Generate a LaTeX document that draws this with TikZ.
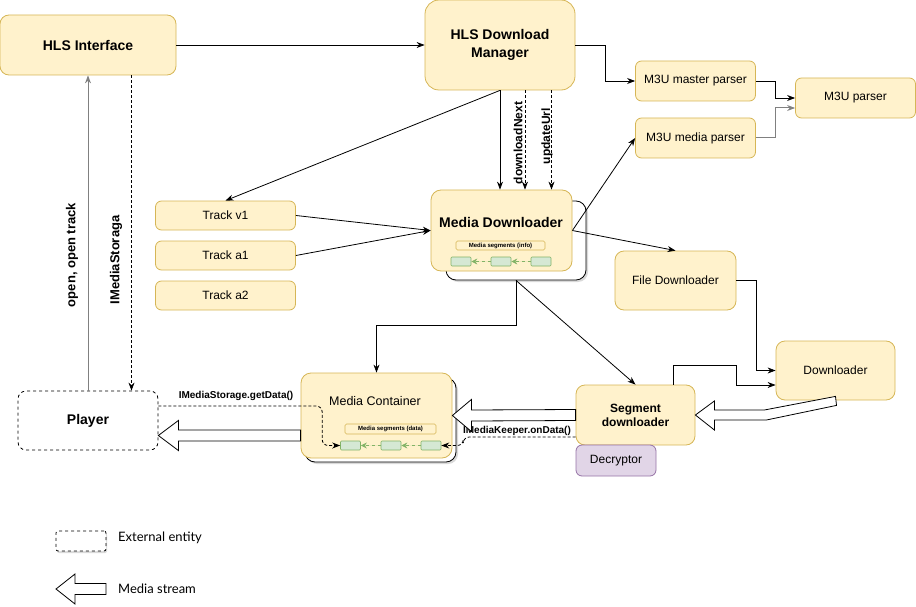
\documentclass[tikz,border=0pt]{standalone}
\usepackage{fontspec}
\setmainfont{Liberation Sans}
\newfontfamily\legendfont{Lato}
\usetikzlibrary{arrows.meta,calc,shadows}
\definecolor{boxfill}{HTML}{FFF2CC}
\definecolor{boxline}{HTML}{D6B656}
\definecolor{segfill}{HTML}{D5E8D4}
\definecolor{segline}{HTML}{82B366}
\definecolor{decfill}{HTML}{E1D5E7}
\definecolor{decline}{HTML}{9673A6}
\tikzset{
    box/.style={draw=boxline, fill=boxfill, line width=0.8pt, rounded corners=6pt, align=center, inner sep=0pt, font=\fontsize{12}{14}\selectfont},
    bigbox/.style={box, rounded corners=9pt, font=\fontsize{14}{18}\selectfont\bfseries},
    backbox/.style={draw, fill=white, line width=0.8pt, rounded corners=10pt, inner sep=0pt, drop shadow={opacity=0.3, shadow xshift=2pt, shadow yshift=-2pt}},
    extbox/.style={draw, dashed, fill=white, line width=0.8pt, inner sep=0pt},
    infobox/.style={draw=boxline, fill=boxfill, line width=0.6pt, rounded corners=1.5pt, inner sep=0pt, font=\fontsize{6}{7}\selectfont\bfseries},
    segbox/.style={draw=segline, fill=segfill, line width=0.6pt, rounded corners=1pt, minimum width=20pt, minimum height=9pt, inner sep=0pt},
    arr/.style={-{Stealth[length=8pt,width=6pt]}, line width=0.8pt},
    garr/.style={arr, draw=black!50, line width=1pt},
    darr/.style={arr, dash pattern=on 3pt off 2pt},
    segarr/.style={-{Stealth[length=6pt,width=6pt]}, draw=segline, fill=segline, line width=0.8pt, dash pattern=on 3pt off 3pt},
    stream/.style={draw, fill=white, line width=0.8pt},
    vlabel/.style={font=\fontsize{13}{15}\selectfont\bfseries, inner sep=0pt, rotate=90},
    slabel/.style={font=\fontsize{10}{12}\selectfont\bfseries, inner sep=0pt},
    legtext/.style={font=\legendfont\fontsize{13}{15}\selectfont, inner sep=0pt}
}
% left pointing media stream: tip, tail, head length, head half width
\newcommand{\mediastream}[4]{\draw[stream] (#1) -- ++(#3,-#4) -- ++(0,#4-5.5) -- ($(#2)+(0,-5.5)$) -- ($(#2)+(0,5.5)$) -- ($(#1)+(#3,5.5)$) -- ++(0,#4-5.5) -- cycle;}
\begin{document}
\begin{tikzpicture}[x=1pt, y=-1pt]
    \useasboundingbox (0,0) rectangle (916,607);
    % top row
    \node[bigbox, minimum width=176pt, minimum height=60pt] (iface) at (88,45) {HLS Interface};
    \node[bigbox, rounded corners=14pt, minimum width=150pt, minimum height=90pt] (dm) at (500,45) {HLS Download\\Manager};
    \node[box, minimum width=120pt, minimum height=40pt] (master) at (695.5,81) {M3U master parser};
    \node[box, minimum width=120pt, minimum height=40pt] (media) at (695.5,138) {M3U media parser};
    \node[box, minimum width=120pt, minimum height=40pt] (parser) at (855.5,98) {M3U parser};
    % tracks
    \foreach \n/\y in {v1/215.5,a1/255.5,a2/295.5}
    {
        \node[box, minimum width=140pt, minimum height=29pt] (t\n) at (225.5,\y) {Track \n};
    }
    % media downloader
    \node[backbox, minimum width=140pt, minimum height=79pt] (mdback) at (516,240.5) {};
    \node[box, rounded corners=10pt, minimum width=141pt, minimum height=81pt] (md) at (501.5,230.5) {};
    \node[font=\fontsize{14}{17}\selectfont\bfseries, inner sep=0pt] (mdtitle) at (501,222) {Media Downloader};
    \node[infobox, minimum width=89pt, minimum height=9pt] (mdinfo) at (500.5,245.5) {Media segments (info)};
    \foreach \i/\x in {1/461,2/501,3/541}
    {
        \node[segbox] (mdseg\i) at (\x,261.5) {};
    }
    \draw[segarr] (mdseg3) -- (mdseg2);
    \draw[segarr] (mdseg2) -- (mdseg1);
    % downloaders
    \node[box, rounded corners=9pt, minimum width=121pt, minimum height=59pt] (fdl) at (675.5,280.5) {File Downloader};
    \node[box, rounded corners=9pt, minimum width=119pt, minimum height=59pt] (dl) at (835.5,370.5) {Downloader};
    \node[box, rounded corners=9pt, minimum width=119pt, minimum height=60pt, font=\fontsize{12}{14}\selectfont\bfseries] (seg) at (635.5,415) {Segment\\downloader};
    \node[box, draw=decline, fill=decfill, minimum width=80pt, minimum height=31pt] (dec) at (616,460.5) {Decryptor};
    % media container
    \node[backbox, minimum width=151pt, minimum height=84pt] (mcback) at (380.5,420) {};
    \node[box, rounded corners=10pt, minimum width=151pt, minimum height=85pt] (mc) at (376.5,415.5) {};
    \node[font=\fontsize{12.5}{15}\selectfont, inner sep=0pt] (mctitle) at (375,401) {Media Container};
    \node[infobox, minimum width=91pt, minimum height=10pt] (mcinfo) at (390.5,429) {Media segments (data)};
    \foreach \i/\x in {1/350.5,2/391,3/431}
    {
        \node[segbox] (mcseg\i) at (\x,445.5) {};
    }
    \draw[segarr] (mcseg3) -- (mcseg2);
    \draw[segarr] (mcseg2) -- (mcseg1);
    % player
    \node[extbox, rounded corners=8pt, minimum width=140pt, minimum height=59pt, font=\fontsize{14}{17}\selectfont\bfseries] (player) at (88,420.5) {Player};
    % connectors
    \draw[arr] (iface) -- (dm);
    \draw[arr] (dm.east) -- ++(30,0) |- (master.west);
    \draw[arr] (master.east) -- ++(19.5,0) |- (parser.west);
    \draw[garr] (media.east) -- ++(19.5,0) |- ($(parser.west)+(0,10)$);
    \draw[arr] (dm.south) -- (dm.south |- md.north);
    \draw[darr] ($(dm.south)+(25,0)$) -- ($(dm.south |- md.north)+(25,0)$);
    \node[vlabel, font=\fontsize{12}{14}\selectfont\bfseries] (lblnext) at (518,143) {downloadNext};
    \draw[darr] ($(dm.south)+(51.5,0)$) -- ($(dm.south |- md.north)+(51.5,0)$);
    \node[vlabel, font=\fontsize{12}{14}\selectfont\bfseries] (lblurl) at (547,136) {updateUrl};
    \draw[arr] (dm.south) -- (tv1.north);
    \draw[arr] (tv1.east) -- (md.west);
    \draw[arr] (ta1.east) -- (md.west);
    \draw[arr] (md.east) -- (media.west);
    \draw[arr] (md.east) -- (fdl.north);
    \draw[arr] (mdback.south) -- ++(0,45) -| (mc.north);
    \draw[arr] (mdback.south) -- (seg.north);
    \draw[arr] (fdl.east) -- ++(19.5,0) |- (dl.west);
    \draw[arr] ($(seg.north)+(37.5,0)$) -- ++(0,-19) -- ++(63,0) |- ($(dl.west)+(0,14.5)$);
    \draw[garr] (player.north) -- (iface.south);
    \node[vlabel] (lblopen) at (72,255) {open, open track};
    \draw[darr] ($(iface.south)+(43.5,0)$) -- ($(iface.south |- player.north)+(43.5,0)$);
    \node[vlabel] (lblstor) at (116,260) {IMediaStoraga};
    \draw[darr, rounded corners=6pt] ($(player.east)+(0,-14.5)$) -| ($(mcseg1.west)+(-18,0)$) -- (mcseg1.west);
    \node[slabel] (lblget) at (236,396) {IMediaStorage.getData()};
    \draw[darr, rounded corners=6pt] ($(seg.west)+(0,22)$) -| ($(mcseg3.east)+(22,0)$) -- (mcseg3.east);
    \node[slabel] (lblkeep) at (517,431) {IMediaKeeper.onData()};
    % media streams
    \draw[stream] (seg.east) -- ++(19,-14) -- ++(0,9) -- ++(50,0) -- ($(dl.south)+(0,-4)$) -- ($(dl.south)+(1,5)$) -- ($(seg.east)+(71,5)$) -- ($(seg.east)+(19,5)$) -- ++(0,10) -- cycle;
    \mediastream{mc.east}{seg.west}{19}{16}
    \mediastream{$(player.east)+(0,15)$}{$(mc.west)+(0,20)$}{20}{15}
    % legend
    \node[extbox, rounded corners=2pt, minimum width=50pt, minimum height=20pt, drop shadow={opacity=0.3, shadow xshift=1pt, shadow yshift=-2pt}] (legext) at (81,541) {};
    \node[legtext, anchor=west] (legexttext) at (118,538) {External entity};
    \coordinate (legtip) at (56,589);
    \coordinate (legtail) at (106,589);
    \mediastream{legtip}{legtail}{19}{15}
    \node[legtext, anchor=west] (legstreamtext) at (118,589) {Media stream};
\end{tikzpicture}
\end{document}
